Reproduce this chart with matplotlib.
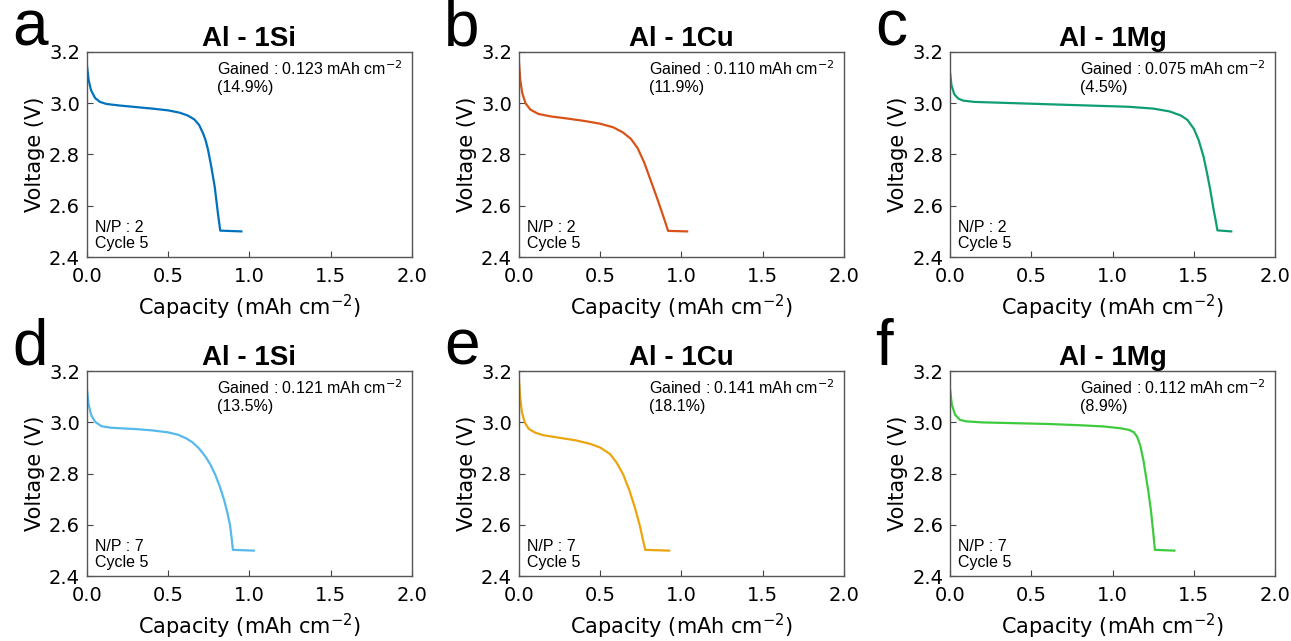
import matplotlib
matplotlib.use('Agg')
import matplotlib.pyplot as plt

# discharge curves (capacity in mAh cm^-2, voltage in V)
cap_a=[0.0,0.01,0.025,0.05,0.08,0.12,0.2,0.3,0.4,0.5,0.57,0.62,0.66,0.69,0.714,0.73,0.745,0.765,0.786,0.806,0.82,0.95]
v_a=[3.145,3.09,3.05,3.02,3.005,2.997,2.991,2.985,2.979,2.972,2.963,2.952,2.937,2.915,2.883,2.855,2.818,2.752,2.674,2.569,2.503,2.5]

cap_b=[0.0,0.008,0.02,0.04,0.07,0.12,0.2,0.3,0.4,0.5,0.58,0.64,0.69,0.73,0.77,0.81,0.85,0.885,0.918,1.035]
v_b=[3.16,3.09,3.04,3.0,2.975,2.958,2.948,2.94,2.931,2.92,2.906,2.886,2.86,2.825,2.77,2.70,2.63,2.565,2.502,2.5]

cap_c=[0.0,0.008,0.025,0.05,0.08,0.15,0.3,0.5,0.7,0.9,1.1,1.25,1.35,1.42,1.46,1.5,1.53,1.56,1.58,1.6,1.62,1.635,1.645,1.73]
v_c=[3.115,3.07,3.035,3.018,3.01,3.005,3.002,2.998,2.994,2.99,2.986,2.979,2.968,2.952,2.935,2.9,2.855,2.79,2.73,2.665,2.59,2.54,2.504,2.5]

cap_d=[0.0,0.01,0.025,0.05,0.09,0.15,0.3,0.4,0.5,0.56,0.61,0.65,0.69,0.73,0.76,0.79,0.82,0.845,0.865,0.88,0.89,0.898,1.026]
v_d=[3.125,3.07,3.03,3.002,2.985,2.979,2.974,2.969,2.961,2.952,2.938,2.922,2.898,2.866,2.835,2.795,2.745,2.695,2.645,2.6,2.55,2.503,2.5]

cap_e=[0.0,0.007,0.018,0.035,0.06,0.1,0.15,0.25,0.35,0.44,0.5,0.56,0.6,0.64,0.68,0.713,0.744,0.764,0.777,0.924]
v_e=[3.165,3.1,3.04,3.0,2.975,2.96,2.95,2.94,2.93,2.916,2.902,2.877,2.844,2.799,2.734,2.669,2.597,2.539,2.503,2.5]

cap_f=[0.0,0.01,0.03,0.06,0.1,0.2,0.4,0.6,0.8,0.95,1.05,1.1,1.13,1.15,1.17,1.19,1.205,1.22,1.235,1.25,1.26,1.38]
v_f=[3.127,3.07,3.03,3.01,3.004,3.0,2.997,2.994,2.989,2.984,2.977,2.971,2.962,2.945,2.91,2.85,2.79,2.73,2.66,2.57,2.503,2.5]

letters=['a','b','c','d','e','f']
titles=['Al - 1Si','Al - 1Cu','Al - 1Mg','Al - 1Si','Al - 1Cu','Al - 1Mg']
gained=['0.123','0.110','0.075','0.121','0.141','0.112']
percent=['14.9%','11.9%','4.5%','13.5%','18.1%','8.9%']
np_ratio=['2','2','2','7','7','7']
caps=[cap_a,cap_b,cap_c,cap_d,cap_e,cap_f]
volts=[v_a,v_b,v_c,v_d,v_e,v_f]
colors=['#0072BD','#D95319','#0F9E73','#57B9EA','#EBA50E','#3DCB3D']

fig=plt.figure(figsize=(12.91,6.41),dpi=100)

lefts=[0.0674,0.402,0.736]
bottoms=[0.599,0.101]
w=0.2517
h=0.320

for i in range(6):
    row=i//3
    col=i%3
    ax=fig.add_axes([lefts[col],bottoms[row],w,h])
    ax.plot(caps[i],volts[i],color=colors[i],lw=1.6)
    ax.set_xlim(0,2)
    ax.set_ylim(2.4,3.2)
    ax.set_xticks([0,0.5,1.0,1.5,2.0])
    ax.set_yticks([2.4,2.6,2.8,3.0,3.2])
    ax.set_xticklabels(['0.0','0.5','1.0','1.5','2.0'])
    ax.set_yticklabels(['2.4','2.6','2.8','3.0','3.2'])
    ax.tick_params(direction='in',length=4,width=0.8,labelsize=14,pad=5,color='#444444')
    ax.tick_params(axis='x',pad=7)
    for s in ax.spines.values():
        s.set_color('#555555')
        s.set_linewidth(1.0)
    ax.set_xlabel('Capacity (mAh cm$^{-2}$)',fontsize=15,labelpad=5)
    ax.set_ylabel('Voltage (V)',fontsize=15,labelpad=3)
    ax.set_title(titles[i],fontsize=20,fontweight='bold',family='Liberation Sans',pad=4)
    ax.text(0.40,0.965,'Gained : '+gained[i]+' mAh cm$^{-2}$\n('+percent[i]+')',transform=ax.transAxes,
            fontsize=11.5,family='Liberation Sans',va='top',ha='left',linespacing=1.15)
    ax.text(0.025,0.03,'N/P : '+np_ratio[i]+'\nCycle 5',transform=ax.transAxes,
            fontsize=11.5,family='Liberation Sans',va='bottom',ha='left',linespacing=1.1)
    fig.text(lefts[col]-0.058,bottoms[row]+h+0.01,letters[i],fontsize=46,family='Liberation Sans',
             va='baseline',ha='left')

fig.savefig('out.png',dpi=100)
